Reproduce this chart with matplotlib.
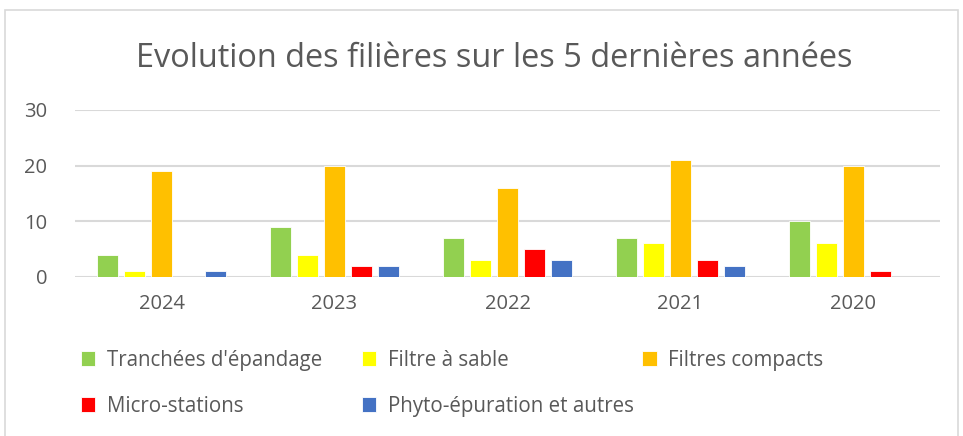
import numpy as np
import matplotlib.pyplot as plt
from matplotlib.patches import Rectangle

plt.rcParams['font.family'] = ['Open Sans', 'DejaVu Sans']

years = ["2024", "2023", "2022", "2021", "2020"]
series_names = ["Tranchées d'épandage", "Filtre à sable", "Filtres compacts",
                "Micro-stations", "Phyto-épuration et autres"]
tranchees = [4, 9, 7, 7, 10]
filtre_sable = [1, 4, 3, 6, 6]
filtres_compacts = [19, 20, 16, 21, 20]
micro_stations = [0, 2, 5, 3, 1]
phyto = [1, 2, 3, 2, 0]
colors = ["#92D050", "#FFFF00", "#FFC000", "#FF0000", "#4472C4"]

values = [tranchees, filtre_sable, filtres_compacts, micro_stations, phyto]

fig = plt.figure(figsize=(9.63, 4.36), dpi=100)
ax = fig.add_axes([0.078, 0.365, 0.898, 0.383])

x = np.arange(len(years))
step = 0.156
width = 0.125
bars = []
for i, (vals, c) in enumerate(zip(values, colors)):
    b = ax.bar(x + (i - 2) * step, vals, width, color=c, edgecolor="white",
               linewidth=0.6, zorder=3)
    bars.append(b)

ax.set_xlim(-0.5, len(years) - 0.5)
ax.set_ylim(0, 30)
ax.set_yticks([0, 10, 20, 30])
ax.set_xticks(x)
ax.set_xticklabels(years)
ax.grid(axis="y", color="#D9D9D9", linewidth=1.5, zorder=0)
for s in ax.spines.values():
    s.set_visible(False)
ax.tick_params(axis="both", length=0, labelsize=14.5, colors="#595959")
ax.tick_params(axis="y", pad=20)
ax.tick_params(axis="x", pad=12)

fig.text(0.513, 0.865, "Evolution des filières sur les 5 dernières années",
         ha="center", va="center", fontsize=23.4, color="#595959")

# legend, one entry at a time to keep Excel's equal column widths
legend_pos = [(0.084, 0.174), (0.376, 0.174), (0.667, 0.174),
              (0.084, 0.068), (0.376, 0.068)]
for b, name, (lx, ly) in zip(bars, series_names, legend_pos):
    fig.legend(handles=[b], labels=[name], loc="center left",
               bbox_to_anchor=(lx, ly), frameon=False, fontsize=14.8,
               handlelength=0.7, handleheight=0.7, handletextpad=0.55,
               borderaxespad=0, borderpad=0, labelcolor="#595959")

fig.patches.append(Rectangle((5 / 963, -0.05), 953 / 963, 1.05 - 10 / 436,
                             transform=fig.transFigure, fill=False,
                             edgecolor="#D9D9D9", linewidth=1.2))

fig.savefig("out.png", dpi=100)
